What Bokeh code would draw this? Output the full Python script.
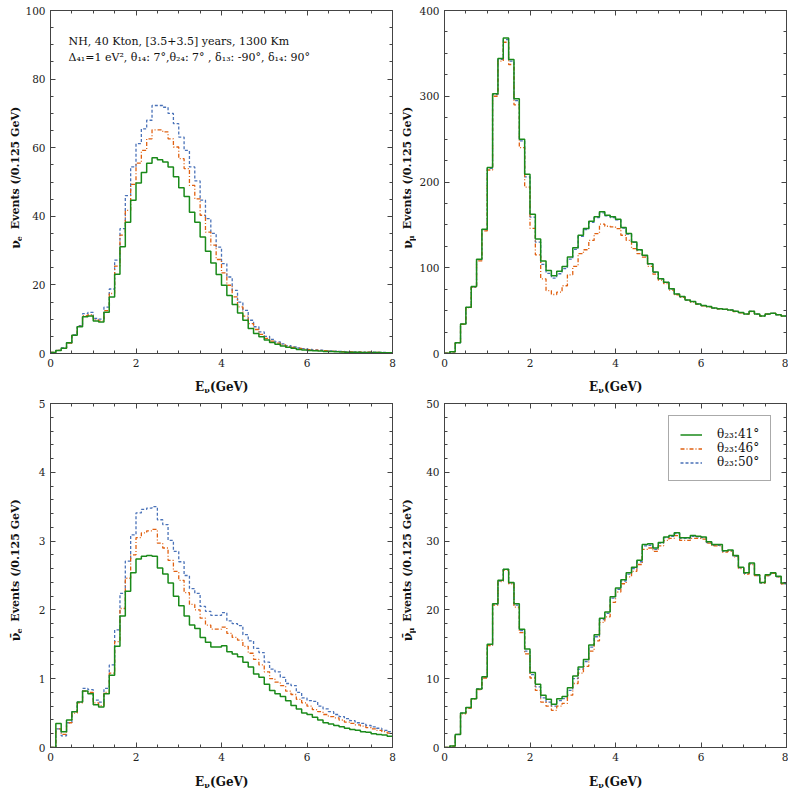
import numpy as np
from bokeh.plotting import figure
from bokeh.layouts import column, row
from bokeh.models import (Range1d, LinearAxis, SingleIntervalTicker, Label, Legend, LegendItem,
                          CustomJSTickFormatter)
from bokeh.core.properties import value
from bokeh.embed import file_html
from bokeh.resources import INLINE

# ---------------- data (events per 0.125 GeV bin, 64 bins from 0 to 8 GeV) ----------------
BIN_WIDTH = 0.125
N_BINS = 64
SERIES_LABELS = ["θ₂₃:41°", "θ₂₃:46°", "θ₂₃:50°"]

nue_41 = [0.3, 0.9, 1.5, 3.1, 5.3, 7.8, 10.7, 10.9, 9.5, 9.2, 12.0, 16.5, 23.1, 31.1, 38.3, 44.7,
          49.7, 52.8, 55.5, 57.1, 56.5, 55.8, 54.4, 51.5, 48.3, 45.8, 41.2, 38.3, 34.0, 29.8, 26.4, 23.0,
          19.9, 16.9, 14.3, 11.8, 9.7, 7.3, 5.8, 4.9, 3.9, 3.2, 2.7, 2.2, 1.8, 1.5, 1.2, 1.0,
          0.9, 0.8, 0.7, 0.6, 0.55, 0.5, 0.45, 0.4, 0.38, 0.35, 0.32, 0.3, 0.28, 0.26, 0.24, 0.22]
nue_46 = [0.3, 0.9, 1.5, 3.0, 5.3, 7.9, 11.0, 11.3, 9.8, 9.5, 12.5, 17.5, 25.5, 34.5, 41.7, 49.3,
          55.5, 59.2, 62.6, 65.2, 65.2, 64.6, 62.6, 60.2, 56.8, 53.9, 49.0, 45.1, 40.3, 35.4, 31.6, 27.4,
          23.5, 19.9, 16.5, 13.6, 10.9, 8.7, 7.0, 5.6, 4.4, 3.6, 3.0, 2.5, 2.1, 1.8, 1.5, 1.3,
          1.1, 1.0, 0.9, 0.8, 0.7, 0.62, 0.56, 0.5, 0.46, 0.42, 0.39, 0.36, 0.33, 0.3, 0.28, 0.26]
nue_50 = [0.3, 0.9, 1.6, 3.1, 5.4, 8.1, 11.6, 12.0, 10.2, 10.0, 13.5, 18.8, 27.2, 36.4, 46.0, 54.4,
          61.2, 65.5, 68.0, 72.3, 72.3, 71.8, 70.0, 67.0, 63.1, 59.2, 54.4, 50.3, 44.7, 39.3, 35.0, 31.0,
          26.2, 22.3, 18.4, 15.0, 12.6, 9.7, 7.8, 6.3, 5.0, 4.1, 3.4, 2.8, 2.3, 1.9, 1.6, 1.4,
          1.2, 1.05, 0.95, 0.85, 0.75, 0.68, 0.6, 0.55, 0.5, 0.46, 0.42, 0.39, 0.36, 0.33, 0.3, 0.28]

numu_41 = [0.4, 2, 12.5, 34.4, 54, 78, 110, 145, 217, 303, 344, 368, 343, 297, 250, 209,
           162.5, 133.6, 107.8, 96.9, 90.6, 96, 101.6, 112.5, 123.4, 137.9, 145.7, 154.3, 159.4, 165.2, 161.3, 159.4,
           156.6, 146.9, 139.8, 130, 121, 114.5, 104.7, 94.9, 87.1, 83.2, 75.4, 69.5, 66.4, 62.5, 60.5, 57.8,
           55.9, 54.7, 53.1, 52.3, 51.6, 50.8, 49.2, 47.7, 46.1, 49.2, 46.1, 43.8, 46.1, 46.9, 45.3, 43.8]
numu_46 = [0.4, 2, 12.3, 34, 53.5, 77, 108, 143, 214, 300, 341, 363, 337, 290, 240, 194,
           146, 115, 87, 73.4, 68.8, 71.5, 79, 91.8, 101.6, 116.4, 121, 131.9, 139.8, 150.8, 148.4, 147.7,
           145.7, 137.9, 131.9, 122.3, 116.4, 112.5, 101.6, 92.5, 85.5, 81.5, 74, 68.5, 65.5, 62, 60, 57.5,
           55.6, 54.4, 52.9, 52.1, 51.4, 50.6, 49, 47.5, 46, 49, 46, 43.6, 46, 46.7, 45.1, 43.6]
numu_50 = [0.4, 2, 12.4, 34.2, 53.8, 77.5, 109.5, 144.5, 216, 302, 343, 366, 341, 295, 248, 206,
           159, 130, 104, 93.5, 88, 93, 99, 110, 121.5, 136.5, 144.5, 153, 158.5, 164, 160.5, 158.6,
           155.8, 146.3, 139.2, 129.5, 120.6, 114, 104.3, 94.6, 86.9, 83, 75.2, 69.3, 66.2, 62.3, 60.4, 57.7,
           55.8, 54.6, 53, 52.2, 51.5, 50.7, 49.1, 47.6, 46, 49.1, 46, 43.7, 46, 46.8, 45.2, 43.7]

anue_41 = [0, 0.35, 0.23, 0.4, 0.52, 0.66, 0.82, 0.78, 0.62, 0.59, 0.78, 1.05, 1.47, 1.91, 2.27, 2.54,
           2.74, 2.78, 2.79, 2.78, 2.61, 2.52, 2.39, 2.2, 2.06, 1.91, 1.78, 1.73, 1.6, 1.53, 1.46, 1.46,
           1.48, 1.39, 1.36, 1.32, 1.24, 1.17, 1.07, 1.02, 0.92, 0.83, 0.78, 0.74, 0.68, 0.61, 0.56, 0.5,
           0.48, 0.44, 0.4, 0.36, 0.34, 0.32, 0.3, 0.28, 0.26, 0.25, 0.23, 0.22, 0.2, 0.19, 0.18, 0.165]
anue_46 = [0, 0.27, 0.19, 0.36, 0.5, 0.65, 0.82, 0.8, 0.65, 0.61, 0.8, 1.08, 1.54, 2.02, 2.46, 2.8,
           3.05, 3.12, 3.15, 3.17, 2.97, 2.9, 2.72, 2.56, 2.43, 2.25, 2.08, 2.0, 1.88, 1.78, 1.72, 1.72,
           1.75, 1.66, 1.6, 1.56, 1.47, 1.37, 1.28, 1.2, 1.1, 1.0, 0.95, 0.9, 0.82, 0.77, 0.7, 0.65,
           0.6, 0.55, 0.52, 0.48, 0.45, 0.43, 0.4, 0.37, 0.35, 0.33, 0.31, 0.29, 0.27, 0.25, 0.23, 0.21]
anue_50 = [0, 0.27, 0.17, 0.36, 0.52, 0.66, 0.86, 0.84, 0.69, 0.66, 0.86, 1.2, 1.71, 2.24, 2.71, 3.09,
           3.41, 3.46, 3.48, 3.5, 3.31, 3.24, 3.01, 2.85, 2.7, 2.5, 2.31, 2.24, 2.05, 1.98, 1.92, 1.92,
           1.96, 1.84, 1.8, 1.77, 1.64, 1.55, 1.44, 1.38, 1.24, 1.14, 1.1, 1.02, 0.93, 0.9, 0.8, 0.72,
           0.68, 0.67, 0.6, 0.56, 0.52, 0.48, 0.45, 0.42, 0.39, 0.36, 0.35, 0.32, 0.3, 0.28, 0.25, 0.23]

anumu_41 = [0, 0.2, 1.9, 5.0, 5.8, 7.1, 8.5, 10.3, 15.0, 20.9, 24.3, 25.9, 24.0, 20.9, 17.2, 14.3,
            10.9, 9.2, 7.6, 7.0, 6.3, 7.1, 7.4, 8.7, 10.4, 11.7, 12.8, 14.9, 16.4, 18.8, 19.7, 21.9,
            23.2, 24.4, 25.4, 26.2, 27.2, 29.5, 29.6, 29.0, 29.8, 30.6, 30.8, 31.2, 30.5, 30.5, 30.8, 30.7,
            30.6, 29.9, 29.5, 29.5, 28.6, 28.7, 27.9, 26.2, 25.4, 26.8, 25.1, 24.0, 25.1, 25.4, 24.9, 23.9]
anumu_46 = [0, 0.2, 1.9, 4.9, 5.7, 7.0, 8.4, 10.1, 14.8, 20.7, 24.1, 25.8, 23.8, 20.4, 16.7, 13.6,
            10.1, 8.3, 6.6, 6.0, 5.4, 6.0, 6.4, 7.6, 9.3, 10.8, 11.8, 14.0, 15.5, 18.2, 19.0, 21.1,
            22.6, 23.8, 24.8, 25.6, 26.6, 28.8, 29.0, 28.5, 29.3, 30.1, 30.4, 30.8, 30.1, 30.1, 30.4, 30.4,
            30.3, 29.7, 29.3, 29.3, 28.4, 28.5, 27.7, 26.0, 25.2, 26.6, 25.0, 23.9, 25.0, 25.3, 24.8, 23.8]
anumu_50 = [0, 0.2, 1.9, 5.0, 5.8, 7.1, 8.5, 10.2, 14.9, 20.8, 24.2, 25.9, 23.9, 20.7, 17.0, 14.0,
            10.6, 8.8, 7.2, 6.6, 6.0, 6.8, 7.1, 8.3, 10.0, 11.4, 12.5, 14.6, 16.1, 18.6, 19.5, 21.7,
            23.0, 24.2, 25.2, 26.0, 27.0, 29.3, 29.4, 28.8, 29.7, 30.5, 30.7, 31.1, 30.4, 30.4, 30.7, 30.6,
            30.5, 29.8, 29.4, 29.4, 28.5, 28.6, 27.8, 26.1, 25.3, 26.7, 25.0, 23.9, 25.0, 25.3, 24.8, 23.8]

# ---------------- styling ----------------
COLORS = ["#1a8a1a", "#e06010", "#4a72b8"]
DASHES = ["solid", "4 2 1 2", "3 2"]
WIDTHS = [1.5, 1.3, 1.3]
SERIF = "DejaVu Serif"
AXC = "#444444"
TXT = "#111111"

edges = np.arange(N_BINS + 1) * BIN_WIDTH


def style_axis(ax, ticker, labels=True):
    ax.ticker = ticker
    ax.major_tick_in = 5
    ax.major_tick_out = 0
    ax.minor_tick_in = 3
    ax.minor_tick_out = 0
    ax.axis_line_color = AXC
    ax.major_tick_line_color = AXC
    ax.minor_tick_line_color = AXC
    ax.major_label_text_font = SERIF
    ax.major_label_text_color = "#222222"
    if labels:
        ax.major_label_text_font_size = "10.5px"
        ax.major_label_standoff = 5
    else:
        ax.formatter = CustomJSTickFormatter(code="return ''")
        ax.major_label_text_font_size = "1px"
        ax.major_label_standoff = 0


def make_panel(series, ymax, yint, yminor, w, h, ml, mr, mt, mb):
    p = figure(width=w, height=h, x_range=Range1d(0, 8), y_range=Range1d(0, ymax),
               output_backend="svg", toolbar_location=None,
               min_border_left=ml, min_border_right=mr, min_border_top=mt, min_border_bottom=mb)
    p.grid.visible = False
    p.outline_line_color = AXC
    p.background_fill_color = "white"
    p.border_fill_color = "white"
    xt = lambda: SingleIntervalTicker(interval=2, num_minor_ticks=4)
    yt = lambda: SingleIntervalTicker(interval=yint, num_minor_ticks=yminor)
    style_axis(p.xaxis[0], xt())
    style_axis(p.yaxis[0], yt())
    top = LinearAxis()
    style_axis(top, xt(), labels=False)
    p.add_layout(top, "above")
    right = LinearAxis()
    style_axis(right, yt(), labels=False)
    p.add_layout(right, "right")

    rend = {}
    for k in (2, 1, 0):
        vals = list(series[k]) + [series[k][-1]]
        rend[k] = p.step(x=edges, y=vals, mode="after", line_color=COLORS[k],
                         line_width=WIDTHS[k], line_dash=DASHES[k])
    return p, [rend[0], rend[1], rend[2]]


def text_box(w, h):
    f = figure(width=w, height=h, x_range=Range1d(0, w), y_range=Range1d(0, h),
               output_backend="svg", toolbar_location=None, x_axis_type=None, y_axis_type=None,
               min_border=0)
    f.grid.visible = False
    f.outline_line_color = None
    f.background_fill_color = "white"
    f.border_fill_color = "white"
    return f


def put(f, x, y, txt, size, angle=0.0, align="left"):
    f.text(x=[x], y=[y], text=[txt], angle=angle, text_align=align, text_baseline="middle",
           text_font=value(SERIF), text_font_style="bold", text_font_size=size, text_color=TXT)


def y_title(w, h, xc, y0, flavor, bar=False):
    f = text_box(w, h)
    put(f, xc, y0, "ν̄" if bar else "ν", "12.5px", angle=np.pi / 2)
    put(f, xc + 3.5, y0 + 8.2, flavor, "8px", angle=np.pi / 2)
    put(f, xc, y0 + 21, "Events (/0.125 GeV)", "11px", angle=np.pi / 2)
    return f


def x_title(w, h, xc, yc):
    f = text_box(w, h)
    put(f, xc - 26.5, yc, "E", "12px")
    put(f, xc - 17.2, yc - 3, "ν", "8px")
    put(f, xc - 11.5, yc, "(GeV)", "12px")
    return f


p1, _ = make_panel([nue_41, nue_46, nue_50], 100, 20, 4, 374, 373, 28, 4, 10, 20)
p2, _ = make_panel([numu_41, numu_46, numu_50], 400, 100, 4, 372, 373, 28, 2, 10, 20)
p3, _ = make_panel([anue_41, anue_46, anue_50], 5, 1, 5, 374, 372, 28, 4, 8, 20)
p4, rs = make_panel([anumu_41, anumu_46, anumu_50], 50, 10, 5, 372, 372, 28, 2, 8, 20)

yt1 = y_title(22, 373, 15, 114, "e")
yt2 = y_title(20, 373, 11, 114, "μ")
yt3 = y_title(22, 372, 15, 115, "e", bar=True)
yt4 = y_title(20, 372, 11, 115, "μ", bar=True)

xt1 = x_title(396, 22, 221, 9)
xt2 = x_title(392, 22, 219, 9)
xt3 = x_title(396, 22, 221, 7.5)
xt4 = x_title(392, 22, 219, 7.5)

# annotation in first panel
p1.add_layout(Label(x=18, y=312, x_units="screen", y_units="screen",
                    text="NH, 40 Kton, [3.5+3.5] years, 1300 Km", text_baseline="alphabetic",
                    text_font=SERIF, text_font_size="11px", text_color=TXT))
p1.add_layout(Label(x=18, y=296, x_units="screen", y_units="screen",
                    text="Δ₄₁=1 eV², θ₁₄: 7°,θ₂₄: 7° , δ₁₃: -90°, δ₁₄: 90°", text_baseline="alphabetic",
                    text_font=SERIF, text_font_size="11px", text_color=TXT))

legend = Legend(items=[LegendItem(label=SERIES_LABELS[k], renderers=[rs[k]]) for k in range(3)],
                location=(224, 266), margin=0, padding=11, spacing=0,
                label_height=13, glyph_height=13, glyph_width=22, label_standoff=15,
                label_text_font=SERIF, label_text_font_size="12px", label_text_color=TXT,
                border_line_color="#555555", border_line_width=1, background_fill_alpha=1.0)
p4.add_layout(legend)

layout = column(row(yt1, p1, yt2, p2), row(xt1, xt2), row(yt3, p3, yt4, p4), row(xt3, xt4))
open("out.html", "w").write(file_html(layout, INLINE))
